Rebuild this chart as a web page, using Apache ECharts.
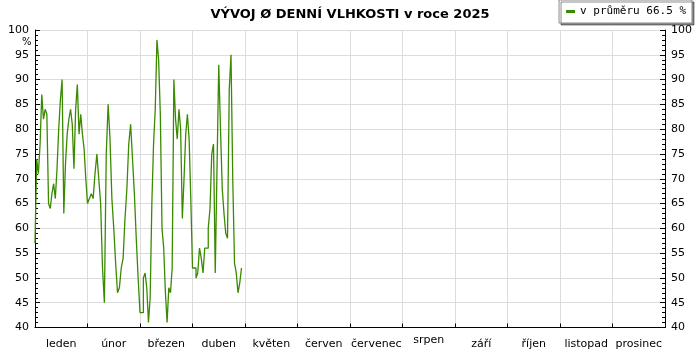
<!DOCTYPE html>
<html>
<head>
<meta charset="utf-8">
<script src="https://cdn.jsdelivr.net/npm/echarts@6/dist/echarts.min.js"></script>
<style>html,body{margin:0;padding:0;background:#fff}#c{width:700px;height:350px}</style>
</head>
<body>
<div id="c"></div>
<script>
const months = ['leden','únor','březen','duben','květen','červen','červenec','srpen','září','říjen','listopad','prosinec'];
const daysInMonth = [31,28,31,30,31,30,31,31,30,31,30,31];
const yTicks = [40,45,50,55,60,65,70,75,80,85,90,95,100];
const jan = [57,74,71,77,87,82,84,83,65,64,67,69,66,72,80,86,90,63,73,79,82,84,81,72,84,89,79,83,79,76,70];
const feb = [65,66,67,66,71,75,70,65,52,45,75,85,78,66,60,53,47,48,52,54,62,68,77,81,74,67,58,50];
const mar = [43,43,50,51,48,41,46,65,77,84,98,94,83,60,56,47,41,48,47,52,90,82,78,84,80,62,70,79,83,78,66];
const apr = [52,52,50,51,56,54,51,56,56,60,64,75,77,51,72,93,80,68,63,59,58,88,95,70,53,51,47,49,52];
const monthly = [jan, feb, mar, apr];
const seriesName = 'v průměru 66.5 %';
const titleText = 'VÝVOJ Ø DENNÍ VLHKOSTI v roce 2025';

const data = [];
monthly.forEach((arr, m) => {
  arr.forEach((v, i) => data.push([m + i / daysInMonth[m], v]));
});

const chart = echarts.init(document.getElementById('c'), null, {renderer: 'canvas'});
const font = 'DejaVu Sans';
chart.setOption({
  animation: false,
  backgroundColor: '#fff',
  title: {
    text: titleText,
    left: 'center',
    top: 3,
    textStyle: {fontFamily: font, fontWeight: 'bold', fontSize: 13, color: '#000'}
  },
  legend: {
    right: 8, top: 0,
    icon: 'rect', itemWidth: 9, itemHeight: 3, itemGap: 6,
    padding: [6, 6, 6, 7],
    backgroundColor: '#fff', borderColor: '#8a8a8a', borderWidth: 1,
    shadowColor: 'rgba(0,0,0,0.45)', shadowOffsetX: 2, shadowOffsetY: 2, shadowBlur: 0,
    textStyle: {fontFamily: 'DejaVu Sans Mono', fontSize: 11, color: '#000'},
    data: [seriesName]
  },
  grid: {left: 35, right: 35, top: 30, bottom: 20, containLabel: false},
  xAxis: [
    {
      type: 'value', min: 0, max: 12, interval: 1,
      axisLine: {show: true, lineStyle: {color: '#000'}},
      axisTick: {show: true, inside: true, length: 4, lineStyle: {color: '#000'}},
      axisLabel: {show: false},
      splitLine: {show: true, lineStyle: {color: '#dcdcdc'}}
    },
    {
      type: 'category', position: 'bottom', data: months, boundaryGap: true,
      axisLine: {show: false}, axisTick: {show: false}, splitLine: {show: false},
      axisLabel: {
        interval: 0,
        margin: 10, fontFamily: font, fontSize: 11, color: '#000',
        formatter: v => v === 'srpen' ? '{b|' + v + '}' : '{a|' + v + '}',
        rich: {a: {lineHeight: 14, fontFamily: font, fontSize: 11}, b: {lineHeight: 6, fontFamily: font, fontSize: 11}}
      }
    }
  ],
  yAxis: [
    {
      type: 'value', min: yTicks[0], max: yTicks[yTicks.length - 1], interval: 5, position: 'left',
      axisLine: {show: true, lineStyle: {color: '#000'}},
      axisTick: {show: true, inside: true, length: 5, lineStyle: {color: '#000'}},
      minorTick: {show: true, splitNumber: 5, length: 3, lineStyle: {color: '#000'}},
      axisLabel: {fontFamily: font, fontSize: 11, color: '#000', margin: 6},
      splitLine: {show: true, lineStyle: {color: '#dcdcdc'}}
    },
    {
      type: 'value', min: yTicks[0], max: yTicks[yTicks.length - 1], interval: 5, position: 'right',
      axisLine: {show: true, lineStyle: {color: '#000'}},
      axisTick: {show: true, inside: true, length: 5, lineStyle: {color: '#000'}},
      minorTick: {show: true, splitNumber: 5, length: 3, lineStyle: {color: '#000'}},
      axisLabel: {fontFamily: font, fontSize: 11, color: '#000', margin: 6},
      splitLine: {show: false}
    }
  ],
  graphic: [{
    type: 'text', left: 22, top: 37,
    style: {text: '%', fontFamily: font, fontSize: 10, fill: '#000'}
  }],
  series: [{
    name: seriesName,
    type: 'line',
    xAxisIndex: 0, yAxisIndex: 0,
    step: 'end',
    showSymbol: false,
    symbol: 'none',
    color: '#3a8a00',
    lineStyle: {width: 1.3, color: '#3a8a00'},
    data: data
  }]
});
</script>
</body>
</html>
